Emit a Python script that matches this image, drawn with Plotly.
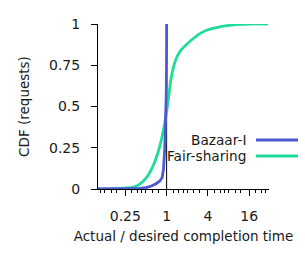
import math
import plotly.graph_objects as go

# Data
bazaar_x = [0.1, 0.3, 0.4, 0.5, 0.6, 0.7, 0.8, 0.86, 0.9, 0.94, 0.97, 0.99, 1.0, 1.0]
bazaar_y = [0.0, 0.0, 0.003, 0.008, 0.018, 0.032, 0.05, 0.07, 0.12, 0.25, 0.4, 0.6, 0.9, 1.0]

fair_x = [0.1, 0.2, 0.27, 0.33, 0.38, 0.45, 0.55, 0.65, 0.74, 0.83, 0.92, 1.0, 1.08, 1.15,
          1.3, 1.45, 1.61, 2.0, 2.5, 3.0, 4.0, 5.5, 7.6, 10, 16, 30]
fair_y = [0.0, 0.002, 0.006, 0.012, 0.022, 0.045, 0.09, 0.15, 0.215, 0.29, 0.38, 0.47, 0.57, 0.66,
          0.76, 0.81, 0.84, 0.88, 0.915, 0.94, 0.965, 0.98, 0.99, 0.996, 1.0, 1.0]

series_names = ["Bazaar-I", "Fair-sharing"]
series_colors = ["#4b5ad3", "#1edc98"]

x_tick_vals = [0.25, 1, 4, 16]
x_tick_text = ["0.25", "1", "4", "16"]
minor_factors = [1.25, 1.5, 1.75, 2, 2.5, 3]
y_tick_vals = [0, 0.25, 0.5, 0.75, 1]
y_tick_text = ["0", "0.25", "0.5", "0.75", "1"]
ref_ratio = 1

x_range = [0.1, 31]

minor_vals = [a * f for a in [0.0625] + x_tick_vals for f in minor_factors
              if x_range[0] < a * f < x_range[1]]

FONT = "DejaVu Sans"
TXT = "#1a1a1a"

fig = go.Figure()

# reference vertical line at ratio 1 (behind data)
fig.add_shape(type="line", xref="x", yref="y", x0=ref_ratio, x1=ref_ratio, y0=0, y1=1,
              line=dict(color="black", width=1), layer="below")

fig.add_trace(go.Scatter(x=fair_x, y=fair_y, mode="lines", name=series_names[1],
                         line=dict(color=series_colors[1], width=2.8, shape="spline", smoothing=0.6),
                         showlegend=False))
fig.add_trace(go.Scatter(x=bazaar_x, y=bazaar_y, mode="lines", name=series_names[0],
                         line=dict(color=series_colors[0], width=2.8), showlegend=False))

# manual legend (text right-aligned, sample line on the right)
leg_y = [140, 156]
for name, color, py in zip(series_names, series_colors, leg_y):
    yp = 1 - (py - 24) / (189 - 24)
    fig.add_annotation(xref="paper", yref="paper", x=(248 - 98) / (269 - 98), y=yp,
                       text=name, showarrow=False, xanchor="right", yanchor="middle",
                       font=dict(family=FONT, size=13.7, color=TXT))
    fig.add_shape(type="line", xref="paper", yref="paper",
                  x0=(256 - 98) / (269 - 98), x1=(298 - 98) / (269 - 98), y0=yp, y1=yp,
                  line=dict(color=color, width=2.8))

fig.update_layout(
    width=305, height=253,
    margin=dict(l=98, r=36, t=24, b=64, autoexpand=False),
    paper_bgcolor="white", plot_bgcolor="white",
    font=dict(family=FONT, size=14, color=TXT),
    xaxis=dict(
        type="log", range=[math.log10(x_range[0]), math.log10(x_range[1])],
        tickmode="array", tickvals=x_tick_vals, ticktext=x_tick_text,
        ticks="outside", ticklen=6, tickwidth=1, tickcolor="black",
        showline=True, linecolor="black", linewidth=1, mirror=False,
        showgrid=False, zeroline=False, ticklabelstandoff=8, automargin=False,
        tickfont=dict(family=FONT, size=14, color=TXT),
        minor=dict(tickmode="array", tickvals=minor_vals, ticks="outside", ticklen=3,
                   tickcolor="black", tickwidth=1, showgrid=False),
        title=dict(text="Actual / desired completion time", standoff=8,
                   font=dict(family=FONT, size=13.5, color=TXT)),
    ),
    yaxis=dict(
        range=[0, 1], tickmode="array", tickvals=y_tick_vals, ticktext=y_tick_text,
        ticks="outside", ticklen=6, tickwidth=1, tickcolor="black",
        showline=True, linecolor="black", linewidth=1, automargin=False,
        showgrid=False, zeroline=False, ticklabelstandoff=8,
        tickfont=dict(family=FONT, size=14, color=TXT),
        title=dict(text="CDF (requests)", standoff=16, font=dict(family=FONT, size=13.5, color=TXT)),
    ),
)

fig.write_html(
    "out.html",
    config={"displayModeBar": False},
    post_script="document.body.style.margin='0';document.body.style.overflow='hidden';",
)
